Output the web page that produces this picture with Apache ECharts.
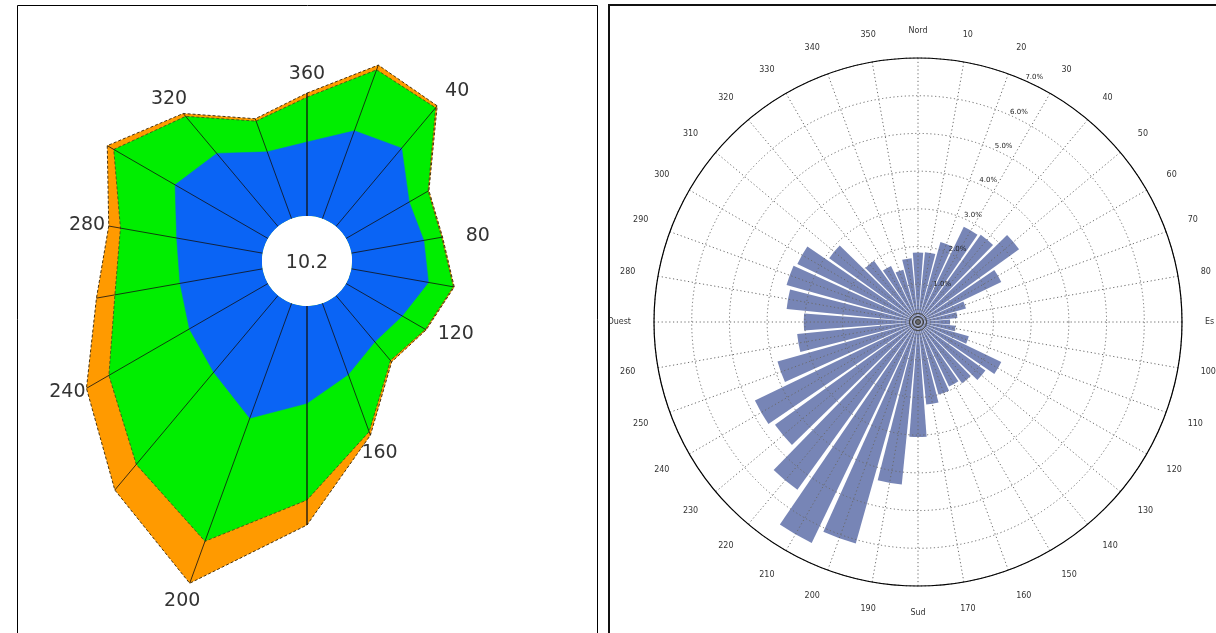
<!DOCTYPE html>
<html>
<head>
<meta charset="utf-8">
<script src="https://cdn.jsdelivr.net/npm/echarts@6/dist/echarts.min.js"></script>
<style>
html,body{margin:0;padding:0;background:#fff;}
#chart{width:1216px;height:633px;}
</style>
</head>
<body>
<div id="chart"></div>
<script>
// ---------- Left panel: stacked wind rose (18 sectors, %) ----------
const roseDirections = [0, 20, 40, 60, 80, 100, 120, 140, 160, 180, 200, 220, 240, 260, 280, 300, 320, 340];
const roseLabels = ['360', '', '40', '', '80', '', '120', '', '160', '', '200', '', '240', '', '280', '', '320', ''];
const calmPercent = 10.2;
const bandBlue = [2.37, 3.00, 3.28, 2.34, 2.36, 2.51, 2.08, 1.94, 2.43, 3.12, 3.92, 3.21, 2.91, 2.69, 2.80, 3.44, 3.06, 2.28];
const bandGreen = [1.44, 2.08, 1.69, 0.70, 0.58, 0.81, 0.86, 0.78, 1.95, 3.10, 4.20, 3.86, 2.98, 2.12, 1.83, 2.27, 1.55, 1.05];
const bandOrange = [0.13, 0.16, 0.08, 0.03, 0.03, 0.03, 0.03, 0.06, 0.12, 0.80, 1.43, 1.07, 0.83, 0.60, 0.38, 0.24, 0.12, 0.08];

// ---------- Right panel: frequency rose (36 sectors, %) ----------
const barLabels = ['Nord', '10', '20', '30', '40', '50', '60', '70', '80', 'Es',
  '100', '110', '120', '130', '140', '150', '160', '170', 'Sud',
  '190', '200', '210', '220', '230', '240', '250', '260', 'Ouest',
  '280', '290', '300', '310', '320', '330', '340', '350'];
const barFrequency = [1.84, 1.86, 2.2, 2.8, 2.85, 3.3, 2.45, 1.32, 1.05, 0.85,
  1.0, 1.4, 2.45, 2.2, 2.0, 1.9, 2.0, 2.2, 3.05,
  4.33, 6.1, 6.5, 5.48, 4.67, 4.8, 3.87, 3.22, 3.03,
  3.5, 3.62, 3.55, 2.9, 2.0, 1.65, 1.44, 1.7];
const radialMax = 7;

// cumulative radii for the stacked polygons
const cumBlue = bandBlue.slice();
const cumGreen = bandBlue.map((v, i) => v + bandGreen[i]);
const cumTotal = cumGreen.map((v, i) => v + bandOrange[i]);
function closedRing(vals) {
  const pts = roseDirections.map((d, i) => [vals[i], d]);
  pts.push([vals[0], 360]);
  return pts;
}

const LC = [307, 261];
const RC = [918, 322];
const RR = 264;
const dotted = {color: '#6a6a6a', type: [1.2, 2.6], width: 1};

const chart = echarts.init(document.getElementById('chart'), null, {renderer: 'canvas'});
chart.setOption({
  animation: false,
  backgroundColor: '#fff',
  polar: [
    {center: LC, radius: [45, 357]},
    {center: RC, radius: RR},
    {center: RC, radius: RR},
    {center: RC, radius: RR}
  ],
  angleAxis: [
    {polarIndex: 0, type: 'value', min: 0, max: 360, startAngle: 90, clockwise: true, show: false},
    {polarIndex: 1, type: 'value', min: 0, max: 360, interval: 10, startAngle: 90, clockwise: true, z: 10,
      axisLine: {lineStyle: {color: '#000', width: 1.2}},
      axisTick: {show: false},
      splitLine: {lineStyle: dotted},
      axisLabel: {margin: 23, fontSize: 8, color: '#333', fontFamily: 'DejaVu Sans',
        formatter: v => (v >= 360 ? '' : barLabels[Math.round(v / 10)])}},
    {polarIndex: 2, type: 'category', data: barLabels, startAngle: 95, clockwise: true, show: false},
    {polarIndex: 3, type: 'value', min: 0, max: 360, startAngle: 66, clockwise: true, show: false}
  ],
  radiusAxis: [
    {polarIndex: 0, type: 'value', min: 0, max: 10, show: false},
    {polarIndex: 1, type: 'value', min: 0, max: radialMax, interval: 1, z: 10,
      axisLine: {show: false}, axisTick: {show: false}, axisLabel: {show: false},
      splitLine: {lineStyle: dotted}},
    {polarIndex: 2, type: 'value', min: 0, max: radialMax, show: false},
    {polarIndex: 3, type: 'value', min: 0, max: radialMax, interval: 1, z: 11,
      axisLine: {show: false}, axisTick: {show: false}, splitLine: {show: false},
      axisLabel: {fontSize: 7, color: '#222', fontFamily: 'DejaVu Sans', margin: 0,
        align: 'left', verticalAlign: 'bottom',
        formatter: v => (v === 0 ? '' : v.toFixed(1) + '%')}}
  ],
  series: [
    {type: 'line', coordinateSystem: 'polar', polarIndex: 0, data: closedRing(cumTotal),
      symbol: 'none', z: 2,
      lineStyle: {color: '#4a3410', width: 1, type: [3, 2]},
      areaStyle: {color: '#ff9a00', opacity: 1}},
    {type: 'line', coordinateSystem: 'polar', polarIndex: 0, data: closedRing(cumGreen),
      symbol: 'none', z: 3,
      lineStyle: {color: '#3a4a20', width: 0.8, type: [3, 2]},
      areaStyle: {color: '#00ee00', opacity: 1}},
    {type: 'line', coordinateSystem: 'polar', polarIndex: 0, data: closedRing(cumBlue),
      symbol: 'none', z: 4,
      lineStyle: {color: '#0a64f5', width: 0.5},
      areaStyle: {color: '#0a64f5', opacity: 1}},
    {type: 'custom', coordinateSystem: 'polar', polarIndex: 0, z: 5,
      data: roseDirections.map((d, i) => [cumTotal[i], d, i]),
      renderItem: function (params, api) {
        const total = api.value(0), ang = api.value(1), idx = api.value(2);
        const p0 = api.coord([0, ang]);
        const p1 = api.coord([total, ang]);
        const main = (ang === 0 || ang === 180);
        const children = [{type: 'line', shape: {x1: p0[0], y1: p0[1], x2: p1[0], y2: p1[1]},
          style: {stroke: '#111', lineWidth: main ? 1.3 : 0.8}}];
        const txt = roseLabels[idx];
        if (txt) {
          const rad = ang * Math.PI / 180;
          const sx = Math.sin(rad), sy = -Math.cos(rad);
          const dx = sx * (22 + 14 * Math.max(0, sx));
          const dy = sy * (Math.abs(sy) > 0.7 ? 19 : 8);
          children.push({type: 'text', style: {x: p1[0] + dx, y: p1[1] + dy, text: txt,
            fill: '#333', font: '19px "DejaVu Sans"', align: 'center', verticalAlign: 'middle'}});
        }
        return {type: 'group', children: children};
      }},
    {type: 'bar', coordinateSystem: 'polar', polarIndex: 2, data: barFrequency,
      barCategoryGap: '14%', z: 2,
      itemStyle: {color: '#7785b6'}}
  ],
  graphic: [
    {type: 'rect', z: 100, shape: {x: 17.5, y: 5.5, width: 580, height: 640},
      style: {fill: null, stroke: '#000', lineWidth: 1}},
    {type: 'rect', z: 100, shape: {x: 609, y: 5, width: 640, height: 640},
      style: {fill: null, stroke: '#111', lineWidth: 2}},
    {type: 'circle', z: 50, shape: {cx: LC[0], cy: LC[1], r: 45}, style: {fill: '#fff'}},
    {type: 'text', z: 51, style: {x: LC[0], y: LC[1] + 2, text: String(calmPercent),
      fill: '#333', font: '19px "DejaVu Sans"', align: 'center', verticalAlign: 'middle'}},
    {type: 'circle', z: 50, shape: {cx: RC[0], cy: RC[1], r: 2.5}, style: {fill: null, stroke: '#333', lineWidth: 1}},
    {type: 'circle', z: 50, shape: {cx: RC[0], cy: RC[1], r: 5.5}, style: {fill: null, stroke: '#333', lineWidth: 1}},
    {type: 'circle', z: 50, shape: {cx: RC[0], cy: RC[1], r: 8.5}, style: {fill: null, stroke: '#444', lineWidth: 1}}
  ]
});
</script>
</body>
</html>
